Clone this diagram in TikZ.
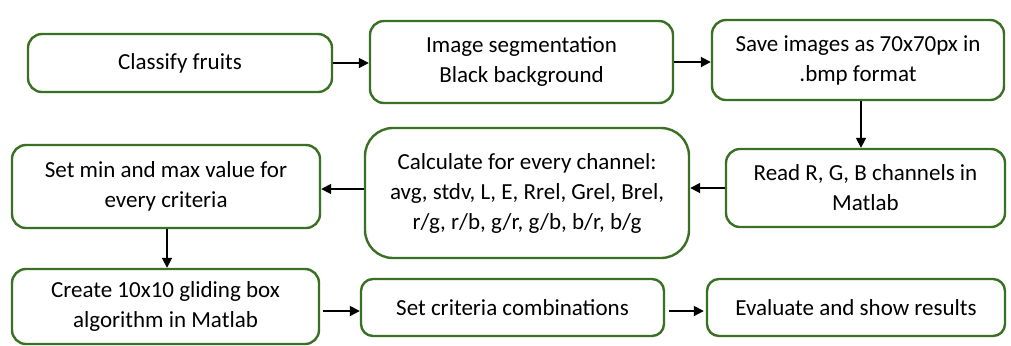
\documentclass[tikz,border=0pt]{standalone}
\usepackage{fontspec}
\setmainfont{Carlito}
\usepackage{tikz}
\usetikzlibrary{positioning, arrows.meta, calc}

\definecolor{boxgreen}{RGB}{58,112,36}

\begin{document}
\begin{tikzpicture}[
    x=0.5pt, y=-0.5pt,
    procbox/.style={draw=boxgreen, line width=1.2pt, rectangle, rounded corners=7pt, align=center, inner sep=0pt, font=\fontsize{11.5}{15}\selectfont},
    edge/.style={line width=0.9pt, -{Triangle[length=5pt, width=5pt]}}
]
\useasboundingbox (0,0) rectangle (1011,345);

% Nodes
\node[procbox, minimum width=152pt, minimum height=29pt] (classify) at (180,63) {Classify fruits};
\node[procbox, minimum width=151.5pt, minimum height=41pt] (segment) at (521.5,62) {Image segmentation\\Black background};
\node[procbox, minimum width=146pt, minimum height=40pt] (save) at (858,60) {Save images as 70x70px in\\.bmp format};
\node[procbox, minimum width=139.5pt, minimum height=39pt] (read) at (865.5,188) {Read R, G, B channels in\\Matlab};
\node[procbox, minimum width=162pt, minimum height=65pt, rounded corners=14pt] (calc) at (527,193) {Calculate for every channel:\\avg, stdv, L, E, Rrel, Grel, Brel,\\r/g, r/b, g/r, g/b, b/r, b/g};
\node[procbox, minimum width=154pt, minimum height=41.5pt] (setmin) at (166,186.5) {Set min and max value for\\every criteria};
\node[procbox, minimum width=153.5pt, minimum height=37.5pt] (create) at (165.5,306.5) {Create 10x10 gliding box\\algorithm in Matlab};
\node[procbox, minimum width=151.5pt, minimum height=28.5pt, rounded corners=6pt] (setcrit) at (512.5,307.5) {Set criteria combinations};
\node[procbox, minimum width=149pt, minimum height=28.5pt, rounded corners=6pt] (evaluate) at (856,307.5) {Evaluate and show results};

% Edges
\draw[edge] (classify.east) -- (classify.east -| segment.west);
\draw[edge] (segment.east) -- (segment.east -| save.west);
\draw[edge] ([xshift=1.5pt]save.south) -- ([xshift=1.5pt]save.south |- read.north);
\draw[edge] (read.west) -- (read.west -| calc.east);
\draw[edge] (calc.west |- 0,189) -- (setmin.east |- 0,189);
\draw[edge] ([xshift=0.5pt]setmin.south) -- ([xshift=0.5pt]setmin.south |- create.north);
\draw[edge] ([xshift=1.5pt]create.east |- 0,311) -- (setcrit.west |- 0,311);
\draw[edge] ([xshift=2pt]setcrit.east |- 0,311) -- ([xshift=-1pt]evaluate.west |- 0,311);

\end{tikzpicture}
\end{document}
